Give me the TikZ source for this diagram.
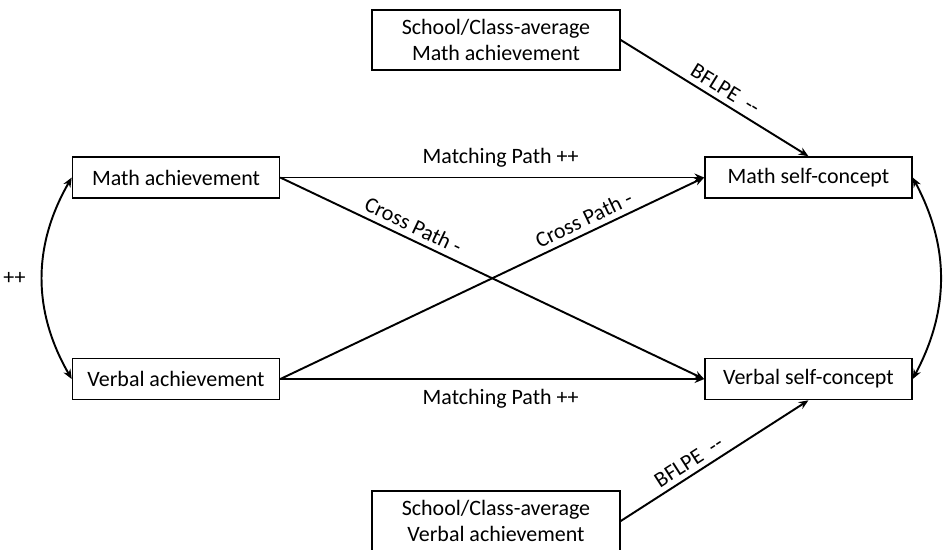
\documentclass[tikz,border=0pt]{standalone}
\usepackage{fontspec}
\setmainfont{Carlito}
\usetikzlibrary{positioning, arrows.meta, calc}
\tikzset{
    varbox/.style={
        rectangle,
        draw,
        line width=0.9pt,
        fill=white,
        minimum width=4.14cm,
        minimum height=0.82cm,
        inner sep=2pt,
        align=center
    },
    avgbox/.style={
        varbox,
        minimum width=4.96cm,
        minimum height=1.2cm
    },
    ptr/.style={
        -{Stealth[length=5.5pt, width=4.5pt]},
        line width=1.1pt
    },
    dptr/.style={
        {Stealth[length=5.5pt, width=4.5pt]}-{Stealth[length=5.5pt, width=4.5pt]},
        line width=1.1pt
    },
    pathlabel/.style={font=\fontsize{12.5}{15}\selectfont, inner sep=3pt}
}

\begin{document}
\begin{tikzpicture}[x=0.02cm, y=-0.02cm, font=\fontsize{12.5}{15.3}\selectfont]
    \useasboundingbox (0,0) rectangle (948,549);

    \node[varbox] (MA) at (176,177.5) {Math achievement};
    \node[varbox, below=3.18cm of MA] (VA) {Verbal achievement};
    \node[varbox, right=8.48cm of MA] (MS) {Math self-concept};
    \node[varbox, right=8.48cm of VA] (VS) {Verbal self-concept};

    \node[avgbox] (SM) at (496,40) {School/Class-average\\Math achievement};
    \node[avgbox] (SV) at (496,521) {School/Class-average\\Verbal achievement};

    % matching and cross paths
    \draw[ptr] (MA.east) -- node[pathlabel, pos=0.52, above=2pt] {Matching Path ++} (MS.west);
    \draw[ptr] (VA.east) -- node[pathlabel, pos=0.52, below=2pt] {Matching Path ++} (VS.west);
    \draw[ptr] (MA.east) -- node[pathlabel, pos=0.3, above, sloped] {Cross Path -} (VS.west);
    \draw[ptr] (VA.east) -- node[pathlabel, pos=0.73, above, sloped] {Cross Path -} (MS.west);

    % big-fish-little-pond effect
    \draw[ptr] (SM.east) -- node[pathlabel, pos=0.52, above, sloped] {BFLPE \ -{}-} (MS.north);
    \draw[ptr] (SV.east) -- node[pathlabel, pos=0.4, above, sloped] {BFLPE \ -{}-} (VS.south);

    % correlations
    \draw[dptr] (MA.west) to[out=240, in=120] node[pathlabel, left=6pt] (PP) {++} (VA.west);
    \draw[dptr] (MS.east) to[out=-62, in=62] node[pathlabel, right=3pt] (CC) {C} (VS.east);
\end{tikzpicture}
\end{document}
